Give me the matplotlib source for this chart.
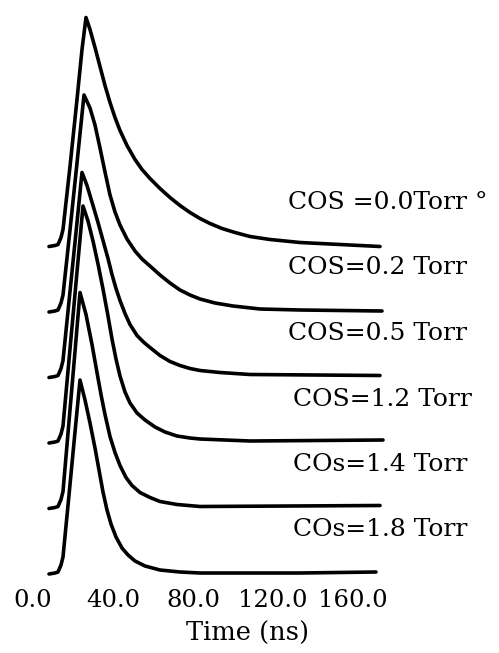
from matplotlib import pyplot as plt

# traces, time in ns, intensity in arbitrary units
# (each trace relative to its own baseline), top trace first
labels = ["COS =0.0Torr °", "COS=0.2 Torr", "COS=0.5 Torr",
          "COS=1.2 Torr", "COs=1.4 Torr", "COs=1.8 Torr"]

t_00 = [8, 11, 12.5, 14, 15, 18.5, 22, 24.5, 26.5, 28.5, 31, 33.5, 36, 38.5,
        41, 43.5, 47, 51, 54.5, 58.5, 63.5, 68.5, 73.5, 78.5, 83.5, 88.5, 94.5,
        101, 108.5, 118.5, 133.5, 153.5, 173.5]
i_00 = [-0.02, -0.01, 0.0, 0.07, 0.15, 0.78, 1.45, 1.95, 2.27, 2.15, 1.97, 1.78,
        1.59, 1.42, 1.27, 1.14, 0.99, 0.85, 0.75, 0.66, 0.56, 0.47, 0.39, 0.32,
        0.26, 0.21, 0.16, 0.12, 0.08, 0.05, 0.02, 0.0, -0.02]

t_02 = [8, 11, 12.5, 14, 15, 18.5, 22, 25.5, 28.5, 31, 33.5, 36, 38.5, 41,
        43.5, 47, 51, 54.5, 58.5, 63.5, 68.5, 73.5, 78.5, 83.5, 91, 100, 113.5,
        133.5, 174.5]
i_02 = [-0.02, -0.01, 0.0, 0.07, 0.15, 0.80, 1.47, 2.15, 2.02, 1.85, 1.62, 1.38,
        1.15, 0.98, 0.85, 0.71, 0.59, 0.51, 0.44, 0.35, 0.27, 0.20, 0.15, 0.11,
        0.07, 0.04, 0.01, 0.0, -0.01]

t_05 = [8, 11, 12.5, 14, 15, 18.5, 22, 24.5, 27, 30, 32.5, 35, 37.5, 39.5,
        41.5, 43.5, 46, 48.5, 52, 55.5, 58.5, 63.5, 68.5, 73.5, 78.5, 83.5, 93.5,
        108.5, 173.5]
i_05 = [-0.02, -0.01, 0.0, 0.07, 0.15, 0.84, 1.53, 2.03, 1.90, 1.70, 1.53, 1.35,
        1.17, 1.01, 0.87, 0.75, 0.62, 0.51, 0.40, 0.33, 0.28, 0.20, 0.14, 0.10,
        0.07, 0.05, 0.03, 0.01, 0.0]

t_12 = [8, 11, 12.5, 14, 15, 18.5, 22, 25, 27.5, 30, 32.5, 35, 37.5, 39.5,
        41.5, 43.5, 46, 48.5, 52, 56, 61, 66, 72, 78.5, 83.5, 108.5, 175]
i_12 = [-0.02, -0.01, 0.0, 0.07, 0.15, 0.92, 1.69, 2.35, 2.20, 2.00, 1.77, 1.52,
        1.25, 1.02, 0.82, 0.65, 0.49, 0.38, 0.28, 0.21, 0.14, 0.09, 0.05, 0.03,
        0.02, 0.0, 0.01]

t_14 = [8, 11, 12.5, 14, 15, 18, 21, 23.5, 26.5, 29.5, 32, 34, 36, 38.5, 41,
        43.5, 46.5, 49.5, 53.5, 58.5, 63.5, 72, 83.5, 173.5]
i_14 = [-0.02, -0.01, 0.0, 0.07, 0.15, 0.85, 1.55, 2.14, 1.92, 1.62, 1.34, 1.12,
        0.92, 0.70, 0.54, 0.41, 0.29, 0.21, 0.14, 0.09, 0.05, 0.02, 0.0, 0.01]

t_18 = [8, 11, 12.5, 14, 15, 18, 21, 23.5, 26, 28.5, 31, 33, 35, 37, 39, 41.5,
        44.5, 47.5, 51, 56, 63.5, 73.5, 83.5, 133.5, 171.5]
i_18 = [-0.02, -0.01, 0.0, 0.07, 0.15, 0.77, 1.40, 1.92, 1.72, 1.49, 1.24, 1.02,
        0.80, 0.62, 0.48, 0.35, 0.24, 0.17, 0.11, 0.06, 0.02, 0.0, -0.01, -0.01,
        0.0]

times = [t_00, t_02, t_05, t_12, t_14, t_18]
traces = [i_00, i_02, i_05, i_12, i_14, i_18]

ticks = [0, 40, 80, 120, 160]
tick_labels = ["0.0", "40.0", "80.0", "120.0", "160.0"]

font = "DejaVu Serif"

fig = plt.figure(figsize=(4.99, 6.53), dpi=100)
ax = fig.add_axes([0, 68 / 653, 1, 585 / 653])
ax.set_xlim(-16.5, 233)
ax.set_ylim(0, 5.85)

n = len(traces)
for k in range(n):
	shift = 0.13 + 0.655 * (n - 1 - k)
	y = [v + shift for v in traces[k]]
	ax.plot(times[k], y, color="black", lw=2.6, solid_capstyle="round")
	ax.text(127.5 if k < 3 else 130, shift + 0.42, labels[k], family=font,
	        fontsize=18, va="center", ha="left")

for s in ax.spines.values():
	s.set_visible(False)
ax.set_yticks([])
ax.set_xticks(ticks)
ax.set_xticklabels(tick_labels, family=font, fontsize=17.5)
ax.tick_params(axis="x", length=0, pad=3)

fig.text(248 / 499, 1 - 633 / 653, "Time (ns)", family=font, fontsize=18.5,
         ha="center", va="center")

fig.savefig("out.png", dpi=100)
